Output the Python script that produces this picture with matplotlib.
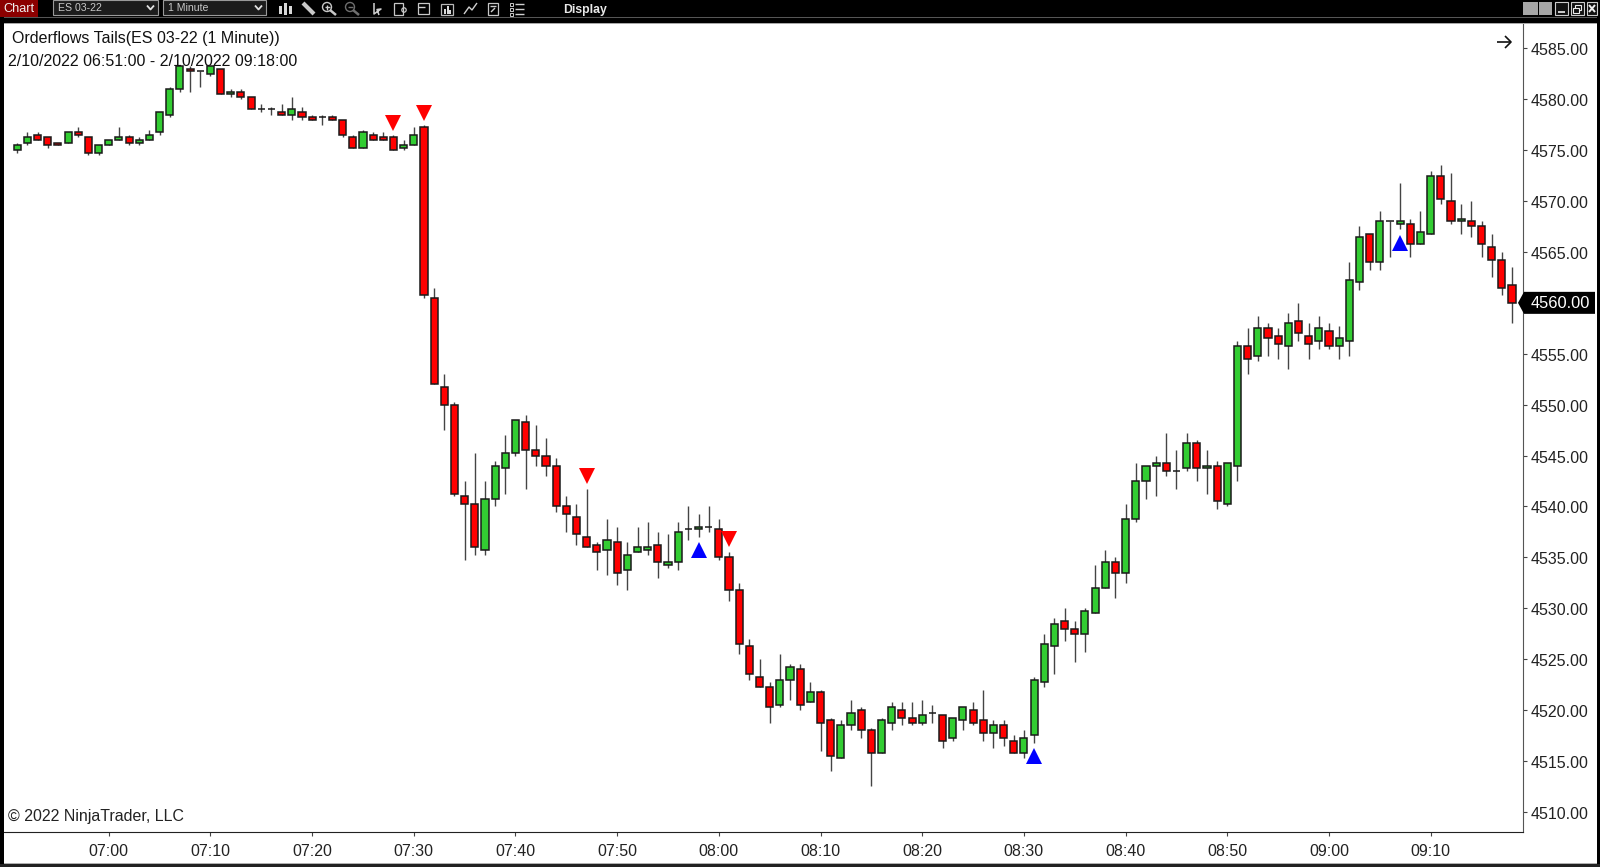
"""Orderflows Tails candlestick chart, ES 03-22, 1 minute bars, NinjaTrader look."""
import matplotlib
matplotlib.use("Agg")
import matplotlib.pyplot as plt
from matplotlib.patches import Polygon, Rectangle
from matplotlib.transforms import ScaledTranslation

plt.rcParams["font.family"] = ["Liberation Sans", "DejaVu Sans"]

GREEN = "#32CD32"
RED = "#FF0000"
BLUE = "#0000FF"
EDGE = "#1a1a1a"
TEXT = "#222222"

# one bar per minute, 06:51 to 09:18
opens = [
    4575, 4575.75, 4576.5, 4576.25, 4575.75, 4575.75, 4576.75, 4576.25, 4574.75, 4575.5,
    4576, 4576.25, 4575.75, 4576, 4576.75, 4578.5, 4581, 4583, 4582.75, 4582.5,
    4583, 4580.5, 4580.75, 4580.25, 4579, 4579, 4578.75, 4578.5, 4578.75, 4578.25,
    4578.25, 4578.25, 4578, 4576.25, 4575.25, 4576.5, 4576.25, 4576.25, 4575.25, 4575.5,
    4577.25, 4560.5, 4551.75, 4550, 4541, 4540.25, 4535.75, 4540.75, 4543.75, 4545.25,
    4548.25, 4545.5, 4545, 4544, 4540, 4539, 4537, 4536.25, 4535.75, 4536.5,
    4533.75, 4535.5, 4535.75, 4536.25, 4534.25, 4534.5, 4537.75, 4537.75, 4538, 4537.75,
    4535, 4531.75, 4526.25, 4523.25, 4522.25, 4520.5, 4523, 4524, 4520.75, 4521.75,
    4519, 4515.25, 4518.5, 4520, 4518, 4515.75, 4518.75, 4520, 4519.25, 4518.75,
    4519.75, 4519.5, 4517.25, 4519, 4520, 4519, 4517.75, 4518.5, 4517, 4515.75,
    4517.5, 4522.75, 4526.25, 4528.75, 4528, 4527.5, 4529.5, 4532, 4534.5, 4533.5,
    4538.75, 4542.5, 4544, 4544.25, 4543.5, 4543.75, 4546.25, 4543.75, 4544, 4540.25,
    4544, 4555.75, 4554.75, 4557.5, 4556.75, 4555.75, 4558.25, 4556.75, 4556.25, 4557.25,
    4555.75, 4556.25, 4562, 4566.75, 4564, 4568, 4567.75, 4567.75, 4565.75, 4566.75,
    4572.5, 4570, 4568, 4568, 4567.5, 4565.5, 4564.25, 4561.75,
]
closes = [
    4575.5, 4576.25, 4576, 4575.5, 4575.5, 4576.75, 4576.5, 4574.75, 4575.5, 4576,
    4576.25, 4575.75, 4576, 4576.5, 4578.75, 4581, 4583.25, 4582.75, 4582.75, 4583.25,
    4580.5, 4580.75, 4580.25, 4579, 4579, 4579, 4578.5, 4579, 4578.25, 4578,
    4578.25, 4578, 4576.5, 4575.25, 4576.75, 4576, 4576, 4575, 4575.5, 4576.5,
    4560.75, 4552, 4550, 4541.25, 4540.25, 4536, 4540.75, 4544, 4545.25, 4548.5,
    4545.5, 4545, 4544, 4540, 4539.25, 4537.25, 4536, 4535.5, 4536.75, 4533.5,
    4535.25, 4536, 4536, 4534.5, 4534.5, 4537.5, 4537.75, 4538, 4538, 4535,
    4531.75, 4526.5, 4523.5, 4522.25, 4520.25, 4523, 4524.25, 4520.5, 4521.75, 4518.75,
    4515.5, 4518.5, 4519.75, 4518, 4515.75, 4519, 4520.25, 4519.25, 4518.75, 4519.5,
    4519.75, 4517, 4519.25, 4520.25, 4518.75, 4517.75, 4518.5, 4517.25, 4515.75, 4517.25,
    4523, 4526.5, 4528.5, 4528, 4527.5, 4529.75, 4532, 4534.5, 4533.5, 4538.75,
    4542.5, 4544, 4544.25, 4543.5, 4543.5, 4546.25, 4543.75, 4544, 4540.5, 4544.25,
    4555.75, 4554.5, 4557.5, 4556.5, 4556, 4558, 4557, 4556, 4557.5, 4555.75,
    4556.5, 4562.25, 4566.5, 4564, 4568, 4568, 4568, 4565.75, 4567, 4572.5,
    4570.25, 4568, 4568.25, 4567.5, 4565.75, 4564.25, 4561.5, 4560,
]
highs = [
    4575.75, 4576.75, 4576.75, 4576.25, 4575.75, 4576.75, 4577.25, 4576.25, 4575.5, 4576,
    4577.25, 4576.5, 4576.25, 4577, 4578.75, 4581.25, 4583.25, 4583.25, 4582.75, 4583.25,
    4583, 4581, 4581, 4580.25, 4579.5, 4579.25, 4579.5, 4580.25, 4579.25, 4578.5,
    4578.5, 4578.5, 4578, 4576.5, 4577, 4576.75, 4576.75, 4576.5, 4576, 4577.25,
    4577.5, 4561.5, 4553, 4550.25, 4542.5, 4545.25, 4542.5, 4544.5, 4547, 4548.5,
    4549, 4548, 4546.75, 4544.75, 4541, 4540.25, 4541.75, 4536.5, 4538.75, 4538,
    4536.5, 4538, 4538.5, 4537.5, 4537.25, 4538.5, 4540, 4539.25, 4540, 4538.75,
    4535.5, 4532.5, 4527, 4525, 4522.75, 4525.5, 4524.5, 4524.5, 4522.75, 4522,
    4519.25, 4519, 4521, 4520.25, 4518.25, 4519.25, 4520.75, 4520.75, 4520.75, 4521,
    4520.5, 4519.5, 4519.25, 4520.25, 4520.75, 4522, 4519, 4519, 4517.5, 4518,
    4523.25, 4527.5, 4529, 4530, 4528.75, 4530, 4534.25, 4535.75, 4535, 4540.25,
    4544.25, 4544, 4545, 4547.25, 4545.5, 4547.25, 4546.5, 4545.5, 4544.5, 4544.25,
    4556.25, 4557.5, 4558.75, 4558, 4557.5, 4559, 4560, 4558, 4558.75, 4558,
    4557.75, 4564, 4567.5, 4566.75, 4569, 4568, 4571.75, 4568.25, 4569, 4573,
    4573.5, 4572.75, 4569.75, 4570, 4568, 4566.75, 4565, 4563.5,
]
lows = [
    4574.75, 4575.5, 4576, 4575.25, 4575.5, 4575.75, 4576.25, 4574.5, 4574.5, 4575.5,
    4576, 4575.5, 4575.5, 4576, 4576.5, 4578.25, 4580.75, 4580.75, 4581.25, 4582.25,
    4580.5, 4580.25, 4580, 4579, 4578.75, 4578.5, 4578.5, 4578, 4578, 4578,
    4577.5, 4578, 4576.25, 4575.25, 4575.25, 4576, 4576, 4575, 4575, 4575.5,
    4560.5, 4552, 4547.5, 4541, 4534.75, 4535.25, 4535.25, 4540, 4541.25, 4545,
    4541.75, 4544, 4543, 4539.5, 4537.5, 4536.25, 4536, 4533.75, 4533.25, 4532.25,
    4531.75, 4535.5, 4535.25, 4533, 4534, 4533.75, 4536.75, 4537, 4537.5, 4534.75,
    4530.75, 4525.5, 4523, 4522.25, 4518.75, 4520.25, 4521, 4520, 4520.75, 4516,
    4514, 4515.25, 4518, 4517.25, 4512.5, 4515.75, 4518, 4518.5, 4518.5, 4518.5,
    4518.75, 4516.25, 4517, 4518, 4518.5, 4517, 4516.25, 4516.5, 4515.75, 4515.25,
    4516.75, 4522.25, 4523.5, 4526.75, 4524.75, 4525.75, 4529.5, 4532, 4531, 4532.5,
    4538.5, 4540.75, 4541, 4543, 4541.75, 4543.5, 4542.5, 4541.25, 4539.75, 4540,
    4542.5, 4553, 4554.25, 4554.75, 4554.5, 4553.5, 4556.25, 4554.5, 4555.5, 4555.5,
    4554.5, 4554.75, 4561.25, 4563.25, 4563.25, 4564.5, 4567.25, 4564.5, 4565.75, 4566.75,
    4569.75, 4567.75, 4566.75, 4566.5, 4564.5, 4562.5, 4560.75, 4558,
]

time_ticks = list(range(9, 148, 10))
time_labels = ["07:00", "07:10", "07:20", "07:30", "07:40", "07:50", "08:00",
               "08:10", "08:20", "08:30", "08:40", "08:50", "09:00", "09:10"]
price_ticks = list(range(4510, 4586, 5))

short_bars = [37, 40, 56, 70]
short_levels = [4577.67, 4578.65, 4543, 4536.8]
long_bars = [67, 100, 136]
long_levels = [4535.7, 4515.5, 4565.9]

W, H = 1600, 867
fig = plt.figure(figsize=(W / 100, H / 100), dpi=100, facecolor="white")

# plot area in pixels: x 4-1523, y 23-832
ax = fig.add_axes([4 / W, 1 - 832 / H, (1523 - 4) / W, (832 - 23) / H])
ax.patch.set_alpha(0)
ax.set_xlim(-1.3, 148.08)
ax.set_ylim(4508.02, 4587.49)

idx = list(range(len(opens)))
colors = [GREEN if c > o else RED for o, c in zip(opens, closes)]
bottoms = [min(o, c) for o, c in zip(opens, closes)]
heights = [abs(c - o) for o, c in zip(opens, closes)]

ax.vlines(idx, lows, highs, color="#444444", linewidth=1.0, zorder=2)
ax.bar(idx, heights, bottom=bottoms, width=0.7, color=colors,
       edgecolor=EDGE, linewidth=1.1, zorder=3)

ax.plot(short_bars, short_levels, "v", color=RED, markersize=12.2, markeredgewidth=0, zorder=4)
ax.plot(long_bars, long_levels, "^", color=BLUE, markersize=12.2, markeredgewidth=0, zorder=4)

ax.yaxis.tick_right()
ax.set_yticks(price_ticks, [f"{p:.2f}" for p in price_ticks])
ax.set_xticks(time_ticks, time_labels)
ax.tick_params(axis="y", length=3, width=0.8, color="#444444", labelsize=11.5,
               labelcolor=TEXT, pad=2.5)
ax.tick_params(axis="x", length=3, width=0.8, color="#444444", labelsize=11.5,
               labelcolor=TEXT, pad=5.5)
nudge = ScaledTranslation(0, -1 / 100, fig.dpi_scale_trans)
for lab in ax.get_yticklabels():
    lab.set_transform(lab.get_transform() + nudge)
for side in ("top", "left"):
    ax.spines[side].set_visible(False)
ax.spines["right"].set_color("#555555")
ax.spines["bottom"].set_color("#222222")

# window chrome and overlays, in pixel coordinates
ui = fig.add_axes([0, 0, 1, 1], zorder=5)
ui.set_xlim(0, W)
ui.set_ylim(H, 0)
ui.axis("off")
ui.patch.set_alpha(0)


def box(x0, y0, x1, y1, **kw):
    ui.add_patch(Rectangle((x0, y0), x1 - x0, y1 - y0, **kw))


def stroke(xs, ys, color="#cfcfcf", lw=1.0):
    ui.plot(xs, ys, color=color, linewidth=lw, solid_capstyle="butt")


box(0, 0, W, 23, facecolor="black", edgecolor="none")
box(0, 17, W, 18.2, facecolor="#555555", edgecolor="none")
box(3, 22.5, W - 3, 24, facecolor="#a8a8a8", edgecolor="none")
box(0, 0, 4, H, facecolor="black", edgecolor="none")
box(W - 3, 0, W, H, facecolor="black", edgecolor="none")
box(0, 864, W, H, facecolor="#222222", edgecolor="none")
box(4, 862.5, W - 3, 864, facecolor="#b0b0b0", edgecolor="none")

box(0, 0, 38, 16.5, facecolor="#8b0000", edgecolor="none")
ui.text(19, 8.5, "Chart", color="#f0f0f0", fontsize=9.2, ha="center", va="center")
for x0, x1, label in [(53, 158, "ES 03-22"), (163, 266, "1 Minute")]:
    box(x0, 0, x1, 15, facecolor="#1c1c1c", edgecolor="#9a9a9a", linewidth=0.8)
    ui.text(x0 + 5, 8, label, color="#c8c8c8", fontsize=7.6, ha="left", va="center")
    stroke([x1 - 11, x1 - 7.5, x1 - 4], [5.5, 9.5, 5.5], color="#e0e0e0", lw=1.3)
ui.text(563, 9.5, "Display", color="#e8e8e8", fontsize=8.8, ha="left", va="center",
        fontweight="bold")

# toolbar glyphs
for x, y0, y1 in [(280, 6, 14), (285, 3, 15), (290, 6, 14)]:
    box(x - 1.5, y0, x + 1.5, y1, facecolor="#d8d8d8", edgecolor="none")
stroke([303, 314], [3, 14], color="#c8c8c8", lw=3)
for cx, col in [(327, "#c8c8c8"), (350, "#6e6e6e")]:
    ui.add_patch(plt.Circle((cx, 7), 4.5, fill=False, edgecolor=col, linewidth=1))
    stroke([cx + 3, cx + 9], [10, 15], color=col, lw=1.8)
    stroke([cx - 2.5, cx + 2.5], [7, 7], color=col)
stroke([327, 327], [4.5, 9.5])
stroke([374, 374, 381, 377, 379], [3, 14, 9, 9.5, 15], color="#d0d0d0", lw=1.1)
box(394, 3, 403, 15, fill=False, edgecolor="#c8c8c8", linewidth=0.9)
ui.add_patch(plt.Circle((404, 10), 2.2, fill=False, edgecolor="#c8c8c8", linewidth=0.9))
box(418, 3, 429, 14, fill=False, edgecolor="#c8c8c8", linewidth=0.9)
stroke([418, 425], [7, 7])
box(441, 4, 453, 15, fill=False, edgecolor="#b8b8b8", linewidth=0.9)
for x, y0 in [(445, 9), (447.5, 6), (450, 10)]:
    stroke([x, x], [y0, 14], color="#e0e0e0", lw=1.4)
stroke([464, 469, 472, 477], [14, 7, 10, 3])
box(488, 3, 498, 15, fill=False, edgecolor="#c8c8c8", linewidth=0.9)
stroke([490, 496], [6, 6])
stroke([491, 495], [12, 8])
for y in (4, 9, 14):
    box(510, y - 1.5, 513, y + 1.5, fill=False, edgecolor="#c8c8c8", linewidth=0.7)
    stroke([515, 524], [y, y])

# window buttons
box(1523, 2, 1538, 15, facecolor="#a6a6a6", edgecolor="none")
box(1539, 2, 1552, 15, facecolor="#a6a6a6", edgecolor="none")
for x0, x1 in [(1555, 1568), (1571, 1584), (1587, 1597)]:
    box(x0, 2, x1, 15, facecolor="#111111", edgecolor="#cccccc", linewidth=0.8)
stroke([1558, 1565], [12, 12], color="#eeeeee", lw=1.2)
box(1575, 5, 1581, 10, fill=False, edgecolor="#eeeeee", linewidth=0.8)
box(1573, 8, 1579, 13, facecolor="#111111", edgecolor="#eeeeee", linewidth=0.8)
stroke([1589, 1595], [5, 12], color="#eeeeee", lw=1.4)
stroke([1589, 1595], [12, 5], color="#eeeeee", lw=1.4)

# header and footer text
ui.text(12, 39, "Orderflows Tails(ES 03-22 (1 Minute))", color="#111111", fontsize=11.55,
        ha="left", va="center")
ui.text(8, 61.5, "2/10/2022 06:51:00 - 2/10/2022 09:18:00", color="#111111", fontsize=11.52,
        ha="left", va="center")
ui.text(8, 817, "\u00a9 2022 NinjaTrader, LLC", color="#222222", fontsize=11.52,
        ha="left", va="center")

# arrow, top right
stroke([1497, 1511], [42, 42], color="#111111", lw=1.2)
stroke([1505, 1511, 1505], [36, 42, 48], color="#111111", lw=1.2)

# last price tag
tag_px = ui.transData.inverted().transform(ax.transData.transform((0, closes[-1])))[1]
ui.add_patch(Polygon([(1518, tag_px), (1524, tag_px - 11), (1595, tag_px - 11),
                      (1595, tag_px + 11), (1524, tag_px + 11)],
                     closed=True, facecolor="black", edgecolor="none"))
ui.text(1530.5, tag_px + 1, f"{closes[-1]:.2f}", color="white", fontsize=11.8,
        ha="left", va="center")

fig.savefig("out.png", dpi=100, facecolor="white")
